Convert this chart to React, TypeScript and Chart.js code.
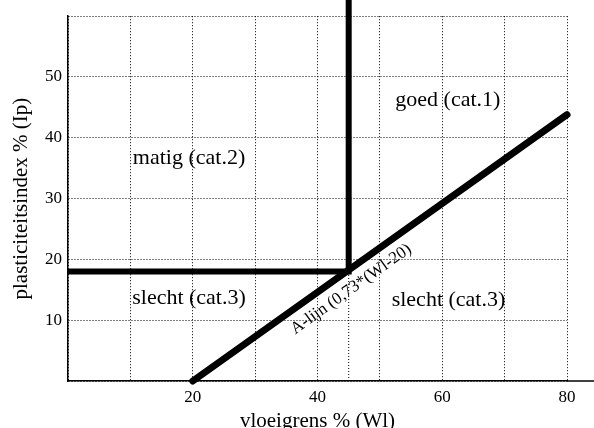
import React, { useEffect, useRef } from 'react';
import { Chart, registerables } from 'chart.js';

Chart.register(...registerables);

// ---- data ----
const xTicksShown = [20, 40, 60, 80];
const yTicksShown = [10, 20, 30, 40, 50];
const aLineX = [20, 80];
const aLineY = [0, 43.8];
const boundaryX = [0, 45, 45];
const boundaryY = [18, 18, 63];
const dottedX = [45, 45];
const dottedY = [0, 18];
const zoneLabels = ['goed (cat.1)', 'matig (cat.2)', 'slecht (cat.3)', 'slecht (cat.3)'];
const zoneX = [60.9, 19.4, 19.4, 61.0];
const zoneY = [46.2, 36.7, 13.6, 13.3];
const aLabel = 'A-lijn (0,73*(Wl-20)';
const aLabelPos = [45.4, 15.1];
const xTitle = 'vloeigrens % (Wl)';
const yTitle = 'plasticiteitsindex % (Ip)';

const FONT = "'Liberation Serif', 'Times New Roman', serif";

const pts = (xs: number[], ys: number[]) => xs.map((x, i) => ({ x, y: ys[i] }));

const annotPlugin = {
  id: 'annot',
  afterDatasetsDraw(chart: any) {
    const { ctx, chartArea, scales } = chart;
    const xs = scales.x;
    const ys = scales.y;
    ctx.save();
    // extend x axis line to the right edge
    ctx.strokeStyle = '#000';
    ctx.lineWidth = 1.5;
    ctx.beginPath();
    ctx.moveTo(chartArea.right, chartArea.bottom);
    ctx.lineTo(chart.width, chartArea.bottom);
    ctx.stroke();

    ctx.fillStyle = '#000';
    ctx.textAlign = 'center';
    ctx.textBaseline = 'middle';
    ctx.font = `22px ${FONT}`;
    zoneLabels.forEach((t, i) => {
      ctx.fillText(t, xs.getPixelForValue(zoneX[i]), ys.getPixelForValue(zoneY[i]));
    });

    const p1x = xs.getPixelForValue(aLineX[0]);
    const p1y = ys.getPixelForValue(aLineY[0]);
    const p2x = xs.getPixelForValue(aLineX[1]);
    const p2y = ys.getPixelForValue(aLineY[1]);
    const ang = Math.atan2(p2y - p1y, p2x - p1x);
    ctx.translate(xs.getPixelForValue(aLabelPos[0]), ys.getPixelForValue(aLabelPos[1]));
    ctx.rotate(ang);
    ctx.font = `17px ${FONT}`;
    ctx.fillText(aLabel, 0, 0);
    ctx.restore();
  },
};

export default function App() {
  const ref = useRef<HTMLCanvasElement | null>(null);
  useEffect(() => {
    if (!ref.current) return;
    const chart = new Chart(ref.current, {
      type: 'scatter',
      data: {
        datasets: [
          {
            data: pts(dottedX, dottedY),
            showLine: true,
            borderColor: '#000',
            borderWidth: 1,
            borderDash: [1, 2],
            pointRadius: 0,
          },
          {
            data: pts(boundaryX, boundaryY),
            showLine: true,
            borderColor: '#000',
            borderWidth: 6,
            borderJoinStyle: 'miter',
            pointRadius: 0,
            clip: false,
          },
          {
            data: pts(aLineX, aLineY),
            showLine: true,
            borderColor: '#000',
            borderWidth: 7,
            borderCapStyle: 'round',
            pointRadius: 0,
            clip: false,
          },
        ],
      },
      options: {
        animation: false,
        responsive: false,
        devicePixelRatio: 1,
        layout: { padding: { top: 15, right: 27, left: 0, bottom: 0 } },
        plugins: { legend: { display: false }, tooltip: { enabled: false } },
        scales: {
          x: {
            type: 'linear',
            min: 0,
            max: 80,
            afterFit: (s: any) => { s.height = 47; },
            ticks: {
              stepSize: 10,
              autoSkip: false,
              maxRotation: 0,
              padding: 6,
              color: '#000',
              font: { family: FONT, size: 17 },
              callback: (v: any) => (xTicksShown.includes(Number(v)) ? String(v) : ''),
            },
            grid: { color: '#000', lineWidth: 1, drawTicks: false },
            border: { color: '#000', width: 1.5, dash: [1, 2] },
            title: {
              display: true,
              text: xTitle,
              color: '#000',
              font: { family: FONT, size: 21 },
              padding: { top: 0, bottom: -6 },
            },
          },
          y: {
            type: 'linear',
            min: 0,
            max: 60,
            afterFit: (s: any) => { s.width = 68; },
            ticks: {
              stepSize: 10,
              autoSkip: false,
              padding: 6,
              color: '#000',
              font: { family: FONT, size: 17 },
              callback: (v: any) => (yTicksShown.includes(Number(v)) ? String(v) : ''),
            },
            grid: { color: '#000', lineWidth: 1, drawTicks: false },
            border: { color: '#000', width: 1.5, dash: [1, 2] },
            title: {
              display: true,
              text: yTitle,
              color: '#000',
              font: { family: FONT, size: 21 },
              padding: { top: 9, bottom: 0 },
            },
          },
        },
      },
      plugins: [annotPlugin],
    } as any);
    return () => chart.destroy();
  }, []);
  return (
    <div style={{ position: 'absolute', left: 0, top: 0, width: 594, height: 428, background: '#fff' }}>
      <canvas ref={ref} width={594} height={428} style={{ display: 'block' }} />
    </div>
  );
}
